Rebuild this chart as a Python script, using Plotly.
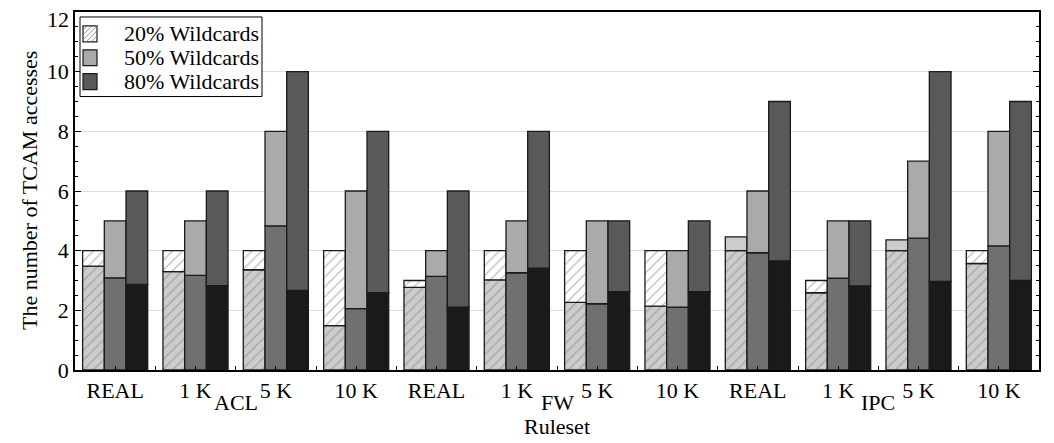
import numpy as np
import plotly.graph_objects as go

# ---------------- data ----------------
categories = ["REAL", "1 K", "5 K", "10 K", "REAL", "1 K", "5 K", "10 K", "REAL", "1 K", "5 K", "10 K"]
families = ["ACL", "FW", "IPC"]
family_centers = [1.5, 5.5, 9.5]

w20_avg = [3.48, 3.30, 3.36, 1.49, 2.77, 3.02, 2.27, 2.14, 4.46, 2.59, 4.36, 3.57]
w20_max = [4, 4, 4, 4, 3.0, 4, 4, 4, 4, 3.0, 4, 4]
w50_avg = [3.09, 3.17, 4.83, 2.06, 3.14, 3.26, 2.22, 2.11, 3.93, 3.08, 4.42, 4.16]
w50_max = [5, 5, 8, 6, 4, 5, 5, 4, 6, 5, 7, 8]
w80_avg = [2.87, 2.83, 2.67, 2.59, 2.11, 3.41, 2.63, 2.63, 3.66, 2.82, 2.97, 3.00]
w80_max = [6, 6, 10, 8, 6, 8, 5, 5, 9, 5, 10, 9]

series_names = ["20% Wildcards", "50% Wildcards", "80% Wildcards"]
y_ticks = [0, 2, 4, 6, 8, 10, 12]
y_ticklabels = ["0", "2", "4", "6", "8", "10", ""]  # "12" drawn separately just inside the top edge

# ---------------- styling ----------------
FONT = "Liberation Serif"
x = np.arange(len(categories))
BW = 0.27
offsets = [-0.405, -0.135, 0.135]
OUTLINE = dict(color="#1a1a1a", width=1.3)

# plot area in page pixels (page has 8px body margin)
PL, PR, PT, PB = 75, 1039, 10, 370


def px(X):
    return (X - PL) / (PR - PL)


def py(Y):
    return (PB - Y) / (PB - PT)


fig = go.Figure()


def seg(y, base, off, color, pattern=None):
    y = np.asarray(y, dtype=float)
    base = np.asarray(base, dtype=float)
    yy = [None if v <= 1e-9 else v for v in y]
    marker = dict(color=color, line=OUTLINE)
    if pattern:
        marker["pattern"] = pattern
    fig.add_trace(go.Bar(
        x=x, y=yy, base=base, width=BW, offset=off,
        marker=marker, showlegend=False, hoverinfo="skip",
    ))


hatch_gray = dict(shape="/", fgcolor="#7a7a7a", bgcolor="#cccccc", size=7, solidity=0.18, fillmode="overlay")
hatch_white = dict(shape="/", fgcolor="#7a7a7a", bgcolor="#ffffff", size=7, solidity=0.18, fillmode="overlay")

a20 = np.array(w20_avg); m20 = np.array(w20_max)
seg(np.minimum(a20, m20), np.zeros(12), offsets[0], "#cccccc", pattern=hatch_gray)
seg(np.where(m20 > a20, m20 - a20, 0), a20, offsets[0], "#ffffff", pattern=hatch_white)
seg(np.where(a20 > m20, a20 - m20, 0), m20, offsets[0], "#cccccc")

a50 = np.array(w50_avg); m50 = np.array(w50_max)
seg(a50, np.zeros(12), offsets[1], "#707070")
seg(m50 - a50, a50, offsets[1], "#aaaaaa")

a80 = np.array(w80_avg); m80 = np.array(w80_max)
seg(a80, np.zeros(12), offsets[2], "#1a1a1a")
seg(m80 - a80, a80, offsets[2], "#595959")

# ---------- legend (drawn manually for compact rows) ----------
shapes = []
shapes.append(dict(type="rect", xref="paper", yref="paper", x0=px(80), x1=px(262), y0=py(95), y1=py(15),
                   line=dict(color="black", width=1), fillcolor="white", layer="above"))
leg_rows = [32, 56, 80]
leg_fill = ["#ffffff", "#aaaaaa", "#595959"]
sx0, sx1 = 83, 97
for i, (cy, fc, nm) in enumerate(zip(leg_rows, leg_fill, series_names)):
    y0s, y1s = cy - 8, cy + 8
    shapes.append(dict(type="rect", xref="paper", yref="paper", x0=px(sx0), x1=px(sx1),
                       y0=py(y1s), y1=py(y0s), line=dict(color="#1a1a1a", width=1.2),
                       fillcolor=fc, layer="above"))
    if i == 0:
        w = sx1 - sx0
        h = y1s - y0s
        for c in [-8, -3, 2, 7, 12]:
            u0, v0 = (0, c) if c >= 0 else (-c, 0)
            u1 = min(w, h - c)
            v1 = u1 + c
            if u1 <= u0:
                continue
            shapes.append(dict(type="line", xref="paper", yref="paper",
                               x0=px(sx0 + u0), y0=py(y1s - v0), x1=px(sx0 + u1), y1=py(y1s - v1),
                               line=dict(color="#7a7a7a", width=0.8), layer="above"))
    fig.add_annotation(x=px(122), y=py(cy), xref="paper", yref="paper", text=nm, showarrow=False,
                       xanchor="left", yanchor="middle", font=dict(family=FONT, size=22, color="black"))

for fam, cx in zip(families, family_centers):
    fig.add_annotation(x=cx, y=py(403), xref="x", yref="paper", text=fam, showarrow=False,
                       font=dict(family=FONT, size=22, color="black"), yanchor="middle")
fig.add_annotation(x=0.5, y=py(427), xref="paper", yref="paper", text="Ruleset", showarrow=False,
                   font=dict(family=FONT, size=22, color="black"), yanchor="middle")
fig.add_annotation(x=px(29), y=0.5, xref="paper", yref="paper", text="The number of TCAM accesses",
                   showarrow=False, textangle=-90, xanchor="center", yanchor="middle",
                   font=dict(family=FONT, size=22, color="black"))
fig.add_annotation(x=px(71), y=py(18), xref="paper", yref="paper", text=str(y_ticks[-1]),
                   showarrow=False, xanchor="right", yanchor="middle",
                   font=dict(family=FONT, size=22, color="black"))

fig.update_layout(
    width=1054, height=443,
    margin=dict(l=67, r=23, t=2, b=81),
    barmode="overlay",
    plot_bgcolor="white", paper_bgcolor="white",
    font=dict(family=FONT, size=22, color="black"),
    showlegend=False,
    shapes=shapes,
    xaxis=dict(range=[-0.5, 11.5], tickmode="array", tickvals=list(x), ticktext=categories,
               ticks="inside", ticklen=4, tickcolor="black", showline=True, linecolor="black",
               linewidth=1.5, mirror=True, showgrid=False, zeroline=False,
               minor=dict(tick0=0.5, dtick=1, ticks="inside", ticklen=4, tickcolor="black", showgrid=False),
               tickfont=dict(family=FONT, size=22)),
    yaxis=dict(range=[0, 12], tickmode="array", tickvals=y_ticks, ticktext=y_ticklabels,
               ticks="inside", ticklen=6,
               tickcolor="black", showline=True, linecolor="black", linewidth=1.5, mirror="ticks",
               showgrid=True, gridcolor="#dddddd", gridwidth=1, zeroline=False,
               minor=dict(tick0=0, dtick=0.5, ticks="inside", ticklen=3, tickcolor="black", showgrid=False),
               tickfont=dict(family=FONT, size=22), automargin=False),
)

fig.write_html("out.html")
